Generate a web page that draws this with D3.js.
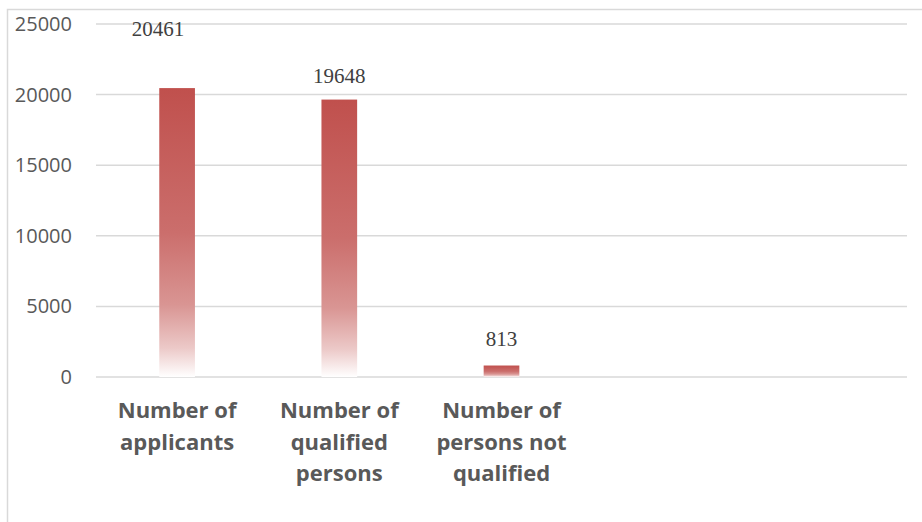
<!DOCTYPE html>
<html>
<head>
<meta charset="utf-8">
<script src="https://cdn.jsdelivr.net/npm/d3@7"></script>
<style>
  body { margin: 0; background: #fff; }
  svg { display: block; }
</style>
</head>
<body>
<div id="chart"></div>
<script>
// data
var categories = ["Number of applicants", "Number of qualified persons", "Number of persons not qualified", "", ""];
var values = [20461, 19648, 813];
var yTicks = [0, 5000, 10000, 15000, 20000, 25000];

var W = 922, H = 522;
var margin = {top: 24, right: 15, bottom: 145, left: 96},
    width = W - margin.left - margin.right,
    height = H - margin.top - margin.bottom;

var svg = d3.select("#chart").append("svg")
  .attr("width", W)
  .attr("height", H);

// frame
svg.append("path")
  .attr("d", "M7.5,522 L7.5,9.5 L922,9.5")
  .attr("fill", "none")
  .attr("stroke", "#d9d9d9")
  .attr("stroke-width", 1.5);

var defs = svg.append("defs");
var grad = defs.append("linearGradient")
  .attr("id", "barFade")
  .attr("x1", 0).attr("y1", 0).attr("x2", 0).attr("y2", 1);
grad.append("stop").attr("offset", "0").attr("stop-color", "#c0504d");
grad.append("stop").attr("offset", "0.5").attr("stop-color", "#cb6e6c");
grad.append("stop").attr("offset", "0.75").attr("stop-color", "#d99593");
grad.append("stop").attr("offset", "0.9").attr("stop-color", "#ecc9c8");
grad.append("stop").attr("offset", "1").attr("stop-color", "#ffffff");

var g = svg.append("g")
  .attr("transform", "translate(" + margin.left + "," + margin.top + ")");

var x = d3.scaleBand()
  .domain(d3.range(categories.length))
  .range([0, width])
  .paddingInner(0.78)
  .paddingOuter(0.39);

var y = d3.scaleLinear()
  .domain([0, 25000])
  .range([height, 0]);

// gridlines
g.selectAll(".grid")
  .data(yTicks)
  .enter().append("line")
  .attr("x1", 0).attr("x2", width)
  .attr("y1", d => y(d)).attr("y2", d => y(d))
  .attr("stroke", "#d9d9d9")
  .attr("stroke-width", 1.5);

// y axis labels
var yAxis = g.append("g")
  .call(d3.axisLeft(y).tickValues(yTicks).tickSize(0).tickPadding(24).tickFormat(d3.format("d")));
yAxis.select(".domain").remove();
yAxis.selectAll("text")
  .attr("fill", "#595959")
  .style("font-family", "'Open Sans', sans-serif")
  .style("font-size", "20px");

// bars
g.selectAll(".bar")
  .data(values)
  .enter().append("rect")
  .attr("x", (d, i) => x(i))
  .attr("y", d => y(d))
  .attr("width", x.bandwidth())
  .attr("height", d => height - y(d))
  .attr("fill", "url(#barFade)");

// value labels (first one was dragged in the original)
var labelLift = [52, 17, 20],
    labelShift = [-19, 0, 0];
g.selectAll(".val")
  .data(values)
  .enter().append("text")
  .attr("x", (d, i) => x(i) + x.bandwidth() / 2 + labelShift[i])
  .attr("y", (d, i) => y(d) - labelLift[i])
  .attr("text-anchor", "middle")
  .attr("fill", "#404040")
  .style("font-family", "'Liberation Serif', 'Times New Roman', serif")
  .style("font-size", "21px")
  .text(d => d);

// category labels, wrapped like the original
var wraps = [["Number of", "applicants"], ["Number of", "qualified", "persons"], ["Number of", "persons not", "qualified"]];
var cat = g.selectAll(".cat")
  .data(categories.filter(c => c !== ""))
  .enter().append("text")
  .attr("text-anchor", "middle")
  .attr("fill", "#595959")
  .style("font-family", "'Open Sans', sans-serif")
  .style("font-weight", "bold")
  .style("font-size", "22px")
  .attr("transform", (d, i) => "translate(" + (x(i) + x.bandwidth() / 2) + "," + (height + 41) + ")");

cat.selectAll("tspan")
  .data((d, i) => wraps[i])
  .enter().append("tspan")
  .attr("x", 0)
  .attr("dy", (d, j) => j === 0 ? 0 : 31.5)
  .text(d => d);
</script>
</body>
</html>
